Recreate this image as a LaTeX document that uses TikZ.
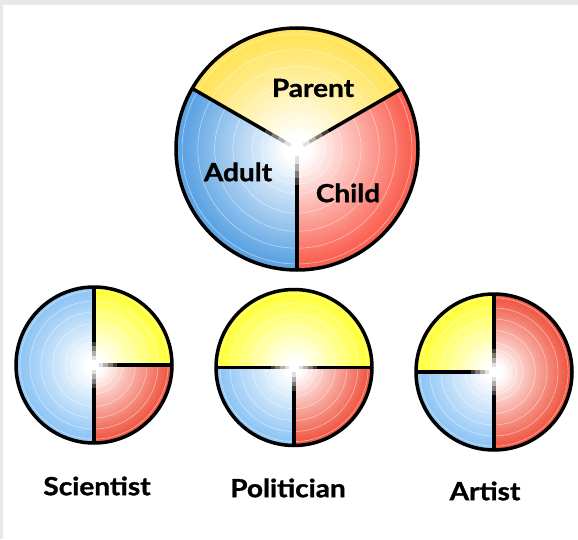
\documentclass[tikz,border=0pt]{standalone}
\usepackage{fontspec}
\setmainfont{Lato}[BoldFeatures={FakeStretch=1.12,FakeBold=1.2}]
\usetikzlibrary{calc}

\definecolor{parentyellow}{RGB}{255,228,92}
\definecolor{childred}{RGB}{250,100,85}
\definecolor{adultblue}{RGB}{95,165,228}
\definecolor{smallyellow}{RGB}{255,255,64}
\definecolor{smallblue}{RGB}{145,198,245}
\definecolor{smallred}{RGB}{240,92,72}
\definecolor{framegray}{RGB}{232,232,232}
\colorlet{piecol}{white}

% white glow in the middle, colour at the rim (rim sits at about 23bp)
\pgfdeclareradialshading[piecol]{pieglow}{\pgfpointorigin}{color(0bp)=(white); color(2.5bp)=(white); color(23bp)=(piecol); color(50bp)=(piecol)}

% centre, radius, start angle, end angle, colour
\newcommand{\pieslice}[5]{%
  \begin{scope}
    \clip #1 -- ++(#3:#2) arc[start angle=#3, end angle=#4, radius=#2] -- cycle;
    \colorlet{piecol}{#5}
    \shade[shading=pieglow] #1 circle[radius=#2];
  \end{scope}}

% centre, radius, angle
\newcommand{\spoke}[3]{%
  \draw[divider] ($#1+({#3}:{0.3*#2})$) -- ($#1+({#3}:{#2})$);
  \foreach \s/\o in {0.06/0.12,0.12/0.3,0.18/0.5,0.24/0.75}
    \draw[divider,opacity=\o] ($#1+({#3}:{\s*#2})$) -- ($#1+({#3}:{(\s+0.06)*#2})$);}

% centre, radius
\newcommand{\rings}[2]{%
  \foreach \f in {0.12,0.17,0.23,0.29,0.37,0.53,0.68,0.82,0.95}
    \draw[ring] #1 circle[radius={\f*#2}];}

\begin{document}
\begin{tikzpicture}[x=1pt,y=1pt,
    divider/.style={line width=3.5pt, black},
    rim/.style={line width=3.5pt, black},
    ring/.style={white, line width=0.6pt, opacity=0.5},
    label/.style={font=\fontsize{25}{29}\selectfont\bfseries, inner sep=0pt}]
  \useasboundingbox (0,0) rectangle (578,539);
  \fill[framegray] (0,534) rectangle (578,539);
  \fill[framegray] (0,0) rectangle (3,539);

  % big circle
  \pieslice{(297,390)}{121}{30}{150}{parentyellow}
  \pieslice{(297,390)}{121}{150}{270}{adultblue}
  \pieslice{(297,390)}{121}{-90}{30}{childred}
  \rings{(297,390)}{121}
  \spoke{(297,390)}{121}{30}
  \spoke{(297,390)}{121}{150}
  \spoke{(297,390)}{121}{270}
  \draw[rim] (297,390) circle[radius=121];
  \node[label] (parent) at (313,451) {Parent};
  \node[label] (adult) at (238,367) {Adult};
  \node[label] (child) at (348,346) {Child};

  % scientist
  \pieslice{(94,174)}{78}{0}{90}{smallyellow}
  \pieslice{(94,174)}{78}{90}{270}{smallblue}
  \pieslice{(94,174)}{78}{-90}{0}{smallred}
  \rings{(94,174)}{78}
  \spoke{(94,174)}{78}{90}
  \spoke{(94,174)}{78}{270}
  \spoke{(94,174)}{78}{0}
  \draw[rim] (94,174) circle[radius=78];
  \node[label] (scientist) at (97,53) {Scientist};

  % politician
  \pieslice{(294,171.5)}{78}{0}{180}{smallyellow}
  \pieslice{(294,171.5)}{78}{180}{270}{smallblue}
  \pieslice{(294,171.5)}{78}{-90}{0}{smallred}
  \rings{(294,171.5)}{78}
  \spoke{(294,171.5)}{78}{0}
  \spoke{(294,171.5)}{78}{180}
  \spoke{(294,171.5)}{78}{270}
  \draw[rim] (294,171.5) circle[radius=78];
  \node[label] (politician) at (288,51) {Politician};

  % artist
  \pieslice{(494,167)}{78}{90}{180}{smallyellow}
  \pieslice{(494,167)}{78}{180}{270}{smallblue}
  \pieslice{(494,167)}{78}{-90}{90}{smallred}
  \rings{(494,167)}{78}
  \spoke{(494,167)}{78}{90}
  \spoke{(494,167)}{78}{270}
  \spoke{(494,167)}{78}{180}
  \draw[rim] (494,167) circle[radius=78];
  \node[label] (artist) at (485,48) {Artist};
\end{tikzpicture}
\end{document}
